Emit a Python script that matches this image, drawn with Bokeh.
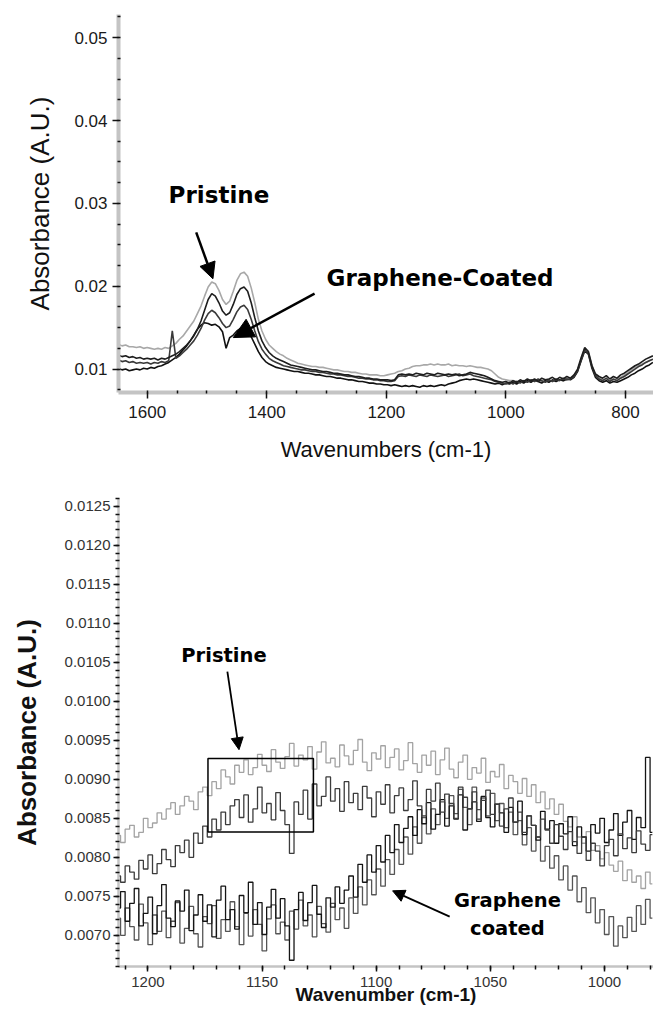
from bokeh.plotting import figure
from bokeh.models import (Range1d, FixedTicker, NumeralTickFormatter, Label,
                          Arrow, NormalHead, BoxAnnotation)
from bokeh.layouts import column
from bokeh.embed import file_html
from bokeh.resources import INLINE

# ---------------- top panel data (full range spectra) ----------------
top_wn_start = 1648
top_wn_step = 6
top_pristine_a = [
    .0130, .0128, .0129, .0127, .0127, .0126, .0127, .0125, .0126, .0125,
    .0124, .0125, .0124, .0126, .0125, .0128, .0131, .0136, .0140, .0146,
    .0152, .0158, .0167, .0176, .0188, .0199, .0205, .0203, .0195, .0184,
    .0178, .0182, .0194, .0207, .0215, .0217, .0212, .0198, .0180, .0160,
    .0146, .0136, .0129, .0125, .0121, .0118, .0116, .0113, .0111, .0109,
    .0107, .0106, .0105, .0104, .0103, .0103, .0102, .0102, .0101, .0100,
    .0099, .0099, .0098, .0097, .0097, .0096, .0096, .0095, .0094, .0094,
    .0093, .0093, .0093, .0092, .0092, .0093, .0094, .0095, .0097, .0098,
    .0100, .0101, .0103, .0104, .0104, .0105, .0105, .0106, .0105, .0106,
    .0105, .0105, .0106, .0104, .0105, .0104, .0104, .0103, .0104, .0103,
    .0102, .0102, .0101, .0100, .0098, .0094, .0090, .0088, .0087, .0086,
    .0086, .0085, .0085, .0086, .0085, .0086, .0085, .0086, .0085, .0086,
    .0086, .0085, .0086, .0087, .0086, .0087, .0088, .0091, .0098, .0112,
    .0125, .0122, .0105, .0093, .0089, .0087, .0087, .0086, .0087, .0088,
    .0090, .0093, .0096, .0099, .0102, .0104, .0106, .0108, .0110, .0112]
top_pristine_b = [
    .0117, .0115, .0116, .0114, .0115, .0113, .0114, .0112, .0113, .0112,
    .0113, .0111, .0113, .0112, .0114, .0116, .0118, .0121, .0125, .0129,
    .0134, .0140, .0148, .0158, .0171, .0184, .0191, .0188, .0180, .0170,
    .0165, .0168, .0178, .0190, .0197, .0199, .0194, .0180, .0162, .0146,
    .0134, .0126, .0120, .0116, .0113, .0111, .0109, .0107, .0105, .0104,
    .0103, .0102, .0101, .0100, .0099, .0099, .0098, .0097, .0097, .0096,
    .0095, .0095, .0094, .0093, .0093, .0092, .0091, .0091, .0090, .0089,
    .0089, .0088, .0088, .0087, .0087, .0087, .0086, .0087, .0093, .0094,
    .0093, .0094, .0093, .0095, .0094, .0093, .0095, .0094, .0093, .0095,
    .0094, .0093, .0094, .0093, .0094, .0092, .0093, .0094, .0096, .0095,
    .0094, .0093, .0092, .0090, .0088, .0086, .0085, .0084, .0085, .0083,
    .0086, .0084, .0087, .0085, .0088, .0086, .0088, .0085, .0089, .0087,
    .0088, .0090, .0087, .0090, .0088, .0091, .0089, .0093, .0100, .0114,
    .0126, .0121, .0104, .0094, .0091, .0089, .0092, .0088, .0091, .0089,
    .0093, .0095, .0098, .0101, .0104, .0106, .0109, .0112, .0114, .0116]
top_graphene_a = [
    .0111, .0109, .0110, .0108, .0109, .0107, .0108, .0107, .0108, .0106,
    .0108, .0107, .0109, .0108, .0110, .0146, .0113, .0116, .0120, .0124,
    .0129, .0134, .0141, .0149, .0159, .0167, .0171, .0168, .0162, .0155,
    .0150, .0152, .0160, .0169, .0175, .0177, .0172, .0160, .0146, .0133,
    .0124, .0118, .0113, .0110, .0108, .0106, .0104, .0103, .0102, .0101,
    .0100, .0099, .0099, .0098, .0097, .0097, .0096, .0096, .0095, .0094,
    .0094, .0093, .0093, .0092, .0091, .0091, .0090, .0089, .0089, .0088,
    .0088, .0087, .0087, .0086, .0086, .0085, .0085, .0086, .0091, .0092,
    .0091, .0093, .0092, .0091, .0093, .0092, .0091, .0093, .0092, .0091,
    .0092, .0093, .0091, .0092, .0093, .0094, .0092, .0093, .0094, .0092,
    .0091, .0090, .0089, .0088, .0087, .0085, .0084, .0083, .0082, .0084,
    .0082, .0085, .0083, .0086, .0084, .0087, .0085, .0088, .0086, .0084,
    .0087, .0085, .0088, .0086, .0089, .0087, .0088, .0091, .0098, .0111,
    .0123, .0119, .0103, .0092, .0088, .0086, .0089, .0085, .0088, .0086,
    .0089, .0091, .0094, .0097, .0100, .0103, .0105, .0108, .0110, .0112]
top_graphene_b = [
    .0101, .0099, .0100, .0098, .0099, .0100, .0099, .0101, .0100, .0102,
    .0101, .0103, .0104, .0106, .0108, .0111, .0114, .0118, .0123, .0128,
    .0134, .0141, .0148, .0153, .0156, .0155, .0153, .0154, .0151, .0145,
    .0125, .0138, .0141, .0146, .0149, .0150, .0147, .0139, .0130, .0121,
    .0114, .0109, .0106, .0104, .0102, .0101, .0100, .0099, .0098, .0097,
    .0097, .0096, .0095, .0095, .0094, .0093, .0093, .0092, .0091, .0091,
    .0090, .0089, .0089, .0088, .0087, .0087, .0086, .0085, .0085, .0084,
    .0083, .0083, .0082, .0082, .0081, .0081, .0080, .0081, .0080, .0079,
    .0080, .0079, .0080, .0079, .0078, .0080, .0079, .0080, .0079, .0080,
    .0081, .0080, .0082, .0083, .0084, .0086, .0087, .0088, .0087, .0088,
    .0087, .0086, .0085, .0084, .0083, .0082, .0083, .0081, .0083, .0082,
    .0084, .0082, .0085, .0083, .0086, .0084, .0087, .0085, .0083, .0086,
    .0084, .0087, .0085, .0087, .0086, .0088, .0087, .0090, .0097, .0110,
    .0122, .0118, .0101, .0090, .0086, .0084, .0086, .0083, .0085, .0084,
    .0086, .0088, .0090, .0093, .0095, .0098, .0100, .0103, .0105, .0108]
top_x_ticks = [1600, 1400, 1200, 1000, 800]
top_y_ticks = [0.01, 0.02, 0.03, 0.04, 0.05]

# ---------------- bottom panel data (zoom 1213-979 cm-1) ----------------
bot_wn_start = 1213
bot_wn_step = 2
bot_pristine_a = [
    .00828, .00819, .00836, .00841, .00826, .00832, .00850, .00838, .00844, .00857,
    .00849, .00862, .00870, .00855, .00866, .00878, .00872, .00861, .00884, .00890,
    .00879, .00897, .00888, .00912, .00903, .00894, .00918, .00909, .00925, .00906,
    .00915, .00932, .00918, .00910, .00938, .00922, .00914, .00929, .00946, .00917,
    .00931, .00925, .00942, .00913, .00935, .00948, .00921, .00927, .00916, .00944,
    .00930, .00919, .00937, .00951, .00922, .00911, .00934, .00926, .00943, .00915,
    .00928, .00939, .00912, .00924, .00947, .00920, .00909, .00931, .00918, .00936,
    .00906, .00925, .00940, .00913, .00902, .00922, .00931, .00900, .00915, .00908,
    .00927, .00896, .00910, .00903, .00919, .00888, .00905, .00897, .00882, .00901,
    .00878, .00893, .00870, .00884, .00862, .00875, .00855, .00868, .00846, .00839,
    .00852, .00826, .00818, .00833, .00809, .00815, .00798, .00806, .00790, .00782,
    .00795, .00770, .00784, .00768, .00776, .00760, .00781, .00766]
bot_pristine_b = [
    .00776, .00768, .00789, .00781, .00772, .00796, .00785, .00803, .00779, .00792,
    .00810, .00797, .00788, .00815, .00806, .00822, .00800, .00831, .00818, .00840,
    .00826, .00849, .00835, .00858, .00842, .00866, .00874, .00851, .00880, .00845,
    .00862, .00890, .00857, .00869, .00848, .00883, .00860, .00842, .00805, .00871,
    .00855, .00886, .00849, .00894, .00866, .00878, .00903, .00872, .00888, .00859,
    .00897, .00870, .00882, .00861, .00891, .00876, .00852, .00884, .00868, .00893,
    .00857, .00879, .00889, .00860, .00874, .00898, .00866, .00853, .00887, .00872,
    .00895, .00858, .00881, .00869, .00850, .00890, .00877, .00862, .00884, .00849,
    .00873, .00886, .00855, .00868, .00840, .00862, .00876, .00845, .00858, .00832,
    .00853, .00841, .00826, .00849, .00835, .00818, .00842, .00827, .00810, .00833,
    .00820, .00805, .00826, .00796, .00818, .00808, .00789, .00815, .00823, .00802,
    .00830, .00811, .00825, .00806, .00834, .00817, .00809, .00829]
bot_graphene_a = [
    .00735, .00756, .00718, .00741, .00760, .00712, .00728, .00749, .00702, .00738,
    .00765, .00722, .00711, .00744, .00731, .00758, .00706, .00726, .00752, .00718,
    .00739, .00698, .00745, .00763, .00720, .00733, .00708, .00751, .00729, .00768,
    .00714, .00742, .00701, .00736, .00759, .00722, .00747, .00712, .00668, .00733,
    .00755, .00719, .00742, .00764, .00727, .00710, .00748, .00736, .00762, .00741,
    .00758, .00776, .00749, .00791, .00768, .00803, .00781, .00815, .00794, .00828,
    .00806, .00842, .00819, .00837, .00852, .00828, .00861, .00843, .00870, .00836,
    .00855, .00874, .00840, .00866, .00849, .00880, .00835, .00862, .00871, .00846,
    .00878, .00851, .00839, .00868, .00857, .00832, .00864, .00845, .00872, .00829,
    .00853, .00841, .00822, .00859, .00836, .00847, .00818, .00843, .00830, .00852,
    .00815, .00839, .00826, .00808, .00842, .00831, .00850, .00819, .00835, .00856,
    .00828, .00845, .00860, .00823, .00851, .00838, .00928, .00832]
bot_graphene_b = [
    .00722, .00700, .00735, .00711, .00694, .00740, .00716, .00688, .00726, .00705,
    .00731, .00697, .00718, .00742, .00690, .00709, .00737, .00702, .00685, .00724,
    .00715, .00738, .00696, .00720, .00705, .00743, .00711, .00688, .00728, .00699,
    .00733, .00714, .00680, .00721, .00739, .00702, .00717, .00694, .00731, .00708,
    .00745, .00712, .00726, .00698, .00737, .00715, .00704, .00741, .00720, .00735,
    .00709, .00748, .00728, .00762, .00739, .00771, .00752, .00785, .00763, .00797,
    .00778, .00810, .00791, .00826, .00804, .00839, .00818, .00851, .00830, .00862,
    .00842, .00871, .00850, .00879, .00856, .00887, .00864, .00842, .00890, .00861,
    .00876, .00853, .00882, .00847, .00869, .00838, .00858, .00829, .00847, .00816,
    .00838, .00808, .00826, .00795, .00814, .00786, .00802, .00771, .00789, .00758,
    .00776, .00743, .00761, .00729, .00748, .00716, .00733, .00701, .00724, .00686,
    .00712, .00697, .00723, .00705, .00738, .00714, .00746, .00722]
bot_x_ticks = [1200, 1150, 1100, 1050, 1000]
bot_y_ticks = [0.0070, 0.0075, 0.0080, 0.0085, 0.0090, 0.0095, 0.0100,
               0.0105, 0.0110, 0.0115, 0.0120, 0.0125]

# annotation anchors (data units)
top_pristine_label = (1480, 0.0310)
top_pristine_arrow = (1518, 0.0265, 1490, 0.0209)
top_graphene_label = (1110, 0.0210)
top_graphene_arrow = (1320, 0.0191, 1456, 0.0138)
bot_pristine_label = (1166.7, 0.01059)
bot_pristine_arrow = (1165.2, 0.01038, 1160.1, 0.00938)
bot_graphene_label = (1042.5, 0.00744)
bot_coated_label = (1042.5, 0.00709)
bot_graphene_arrow = (1067.8, 0.00724, 1092.8, 0.00757)
bot_box = (1173.7, 1127.5, 0.008323, 0.009268)


def wn(start, step, values):
    return [start - step * i for i in range(len(values))]


def style_axes(p, line_w, tick_font, tick_size, tick_color, major_out, minor_in, minor_out):
    for ax in (p.xaxis[0], p.yaxis[0]):
        ax.axis_line_color = "#c4c4c4"
        ax.axis_line_width = line_w
        ax.major_tick_line_color = "#111111"
        ax.major_tick_line_width = 1.5
        ax.major_tick_out = major_out
        ax.major_tick_in = 0
        ax.minor_tick_line_color = "#111111"
        ax.minor_tick_line_width = 1.5
        ax.minor_tick_in = minor_in
        ax.minor_tick_out = minor_out
        ax.major_label_text_font = tick_font
        ax.major_label_text_font_size = tick_size
        ax.major_label_text_color = tick_color
        ax.axis_label_text_font = "Liberation Sans"
        ax.axis_label_text_color = "#111111"
    p.xgrid.visible = False
    p.ygrid.visible = False
    p.outline_line_color = None


def text_label(p, pos, txt, size):
    p.add_layout(Label(x=pos[0], y=pos[1], text=txt, text_font="DejaVu Sans",
                       text_font_style="bold", text_font_size=size,
                       text_align="center", text_baseline="middle",
                       text_color="black"))


# ---------------- top figure ----------------
p1 = figure(width=653, height=478, title=None,
            x_range=Range1d(1648, 753), y_range=Range1d(0.00717, 0.0528),
            output_backend="svg", toolbar_location=None,
            min_border_left=118, min_border_right=0,
            min_border_top=14, min_border_bottom=86)
style_axes(p1, 4, "Liberation Sans", "17px", "#1a1a1a", 6, 2, 1)
p1.xaxis.ticker = FixedTicker(ticks=top_x_ticks,
                              minor_ticks=[1650 - 50 * k for k in range(19)])
p1.yaxis.ticker = FixedTicker(ticks=top_y_ticks,
                              minor_ticks=[0.0075 + 0.0025 * k for k in range(19)])
p1.xaxis.formatter = NumeralTickFormatter(format="0")
p1.yaxis.formatter = NumeralTickFormatter(format="0.00")
p1.xaxis.major_label_standoff = 7
p1.yaxis.major_label_standoff = 5
p1.xaxis.axis_label = "Wavenumbers (cm-1)"
p1.yaxis.axis_label = "Absorbance (A.U.)"
p1.xaxis.axis_label_text_font_style = "normal"
p1.yaxis.axis_label_text_font_style = "normal"
p1.xaxis.axis_label_text_font_size = "22px"
p1.yaxis.axis_label_text_font_size = "26px"
p1.xaxis.axis_label_standoff = 16
p1.yaxis.axis_label_standoff = 16

p1.line(wn(top_wn_start, top_wn_step, top_pristine_a), top_pristine_a,
        line_color="#a8a8a8", line_width=1.6)
p1.line(wn(top_wn_start, top_wn_step, top_graphene_b), top_graphene_b,
        line_color="#111111", line_width=1.6)
p1.line(wn(top_wn_start, top_wn_step, top_graphene_a), top_graphene_a,
        line_color="#3a3a3a", line_width=1.6)
p1.line(wn(top_wn_start, top_wn_step, top_pristine_b), top_pristine_b,
        line_color="#1e1e1e", line_width=1.6)

text_label(p1, top_pristine_label, "Pristine", "23px")
text_label(p1, top_graphene_label, "Graphene-Coated", "23px")
p1.add_layout(Arrow(end=NormalHead(size=16, fill_color="black", line_color="black"),
                    x_start=top_pristine_arrow[0], y_start=top_pristine_arrow[1],
                    x_end=top_pristine_arrow[2], y_end=top_pristine_arrow[3],
                    line_width=2.5, line_color="black"))
p1.add_layout(Arrow(end=NormalHead(size=20, fill_color="black", line_color="black"),
                    x_start=top_graphene_arrow[0], y_start=top_graphene_arrow[1],
                    x_end=top_graphene_arrow[2], y_end=top_graphene_arrow[3],
                    line_width=2.5, line_color="black"))

# ---------------- bottom figure ----------------
p2 = figure(width=653, height=532, title=None,
            x_range=Range1d(1212.9, 978.5), y_range=Range1d(0.0066, 0.0126),
            output_backend="svg", toolbar_location=None,
            min_border_left=107, min_border_right=0,
            min_border_top=20, min_border_bottom=44)
style_axes(p2, 2.5, "Liberation Sans", "15px", "#333333", 5, 1, 3)
p2.xaxis.ticker = FixedTicker(ticks=bot_x_ticks,
                              minor_ticks=[1210 - 10 * k for k in range(24)])
p2.yaxis.ticker = FixedTicker(ticks=bot_y_ticks,
                              minor_ticks=[0.0066 + 0.0001 * k for k in range(61)])
p2.xaxis.formatter = NumeralTickFormatter(format="0")
p2.yaxis.formatter = NumeralTickFormatter(format="0.0000")
p2.xaxis.major_label_standoff = 5
p2.yaxis.major_label_standoff = 3
p2.xaxis.axis_label = "Wavenumber (cm-1)"
p2.yaxis.axis_label = "Absorbance (A.U.)"
p2.xaxis.axis_label_text_font_style = "bold"
p2.yaxis.axis_label_text_font_style = "bold"
p2.xaxis.axis_label_text_font_size = "19px"
p2.yaxis.axis_label_text_font_size = "26px"
p2.xaxis.axis_label_standoff = -6
p2.yaxis.axis_label_standoff = 20

p2.step(wn(bot_wn_start, bot_wn_step, bot_pristine_a), bot_pristine_a, mode="center",
        line_color="#a3a3a3", line_width=1.3)
p2.step(wn(bot_wn_start, bot_wn_step, bot_graphene_b), bot_graphene_b, mode="center",
        line_color="#555555", line_width=1.3)
p2.step(wn(bot_wn_start, bot_wn_step, bot_graphene_a), bot_graphene_a, mode="center",
        line_color="#151515", line_width=1.3)
p2.step(wn(bot_wn_start, bot_wn_step, bot_pristine_b), bot_pristine_b, mode="center",
        line_color="#3c3c3c", line_width=1.3)

p2.add_layout(BoxAnnotation(left=bot_box[0], right=bot_box[1],
                            bottom=bot_box[2], top=bot_box[3],
                            fill_alpha=0, fill_color=None,
                            line_color="black", line_alpha=1.0, line_width=1.5))
text_label(p2, bot_pristine_label, "Pristine", "19.5px")
text_label(p2, bot_graphene_label, "Graphene", "19.5px")
text_label(p2, bot_coated_label, "coated", "19.5px")
for arr in (bot_pristine_arrow, bot_graphene_arrow):
    p2.add_layout(Arrow(end=NormalHead(size=12, fill_color="black", line_color="black"),
                        x_start=arr[0], y_start=arr[1], x_end=arr[2], y_end=arr[3],
                        line_width=1.8, line_color="black"))

layout = column(p1, p2)
open("out.html", "w").write(file_html(layout, INLINE))
